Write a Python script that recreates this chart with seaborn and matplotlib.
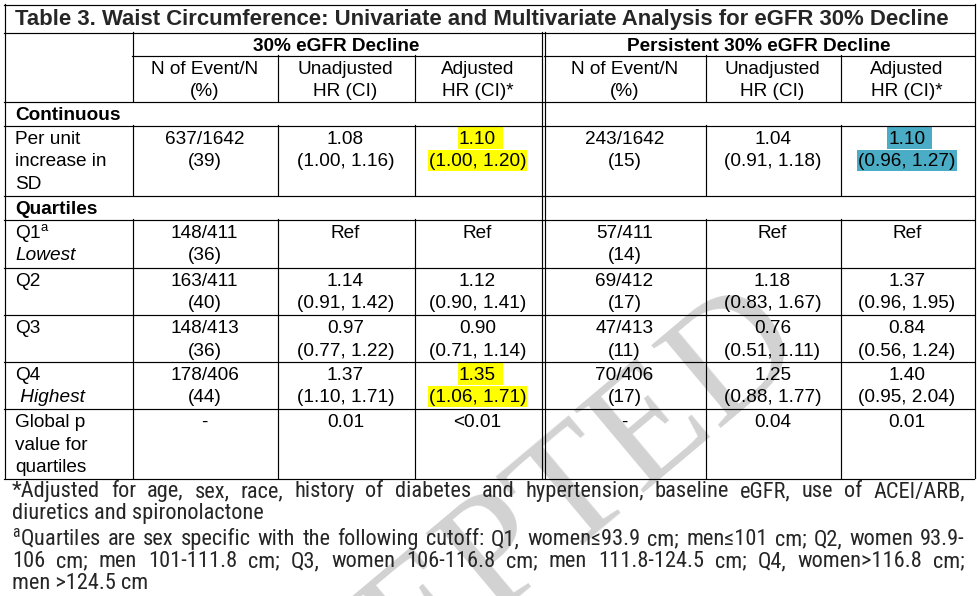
import numpy as np
import pandas as pd
import seaborn as sns
import matplotlib.pyplot as plt
from matplotlib import font_manager
from matplotlib.patches import Rectangle

sns.set_theme(style='white')
# 폰트는 set_theme 뒤에 지정
plt.rcParams['font.family'] = ['Liberation Sans', 'DejaVu Sans']
plt.rcParams['mathtext.fontset'] = 'custom'
plt.rcParams['mathtext.rm'] = 'Liberation Sans'
plt.rcParams['mathtext.it'] = 'Liberation Sans:italic'

# ---------------- 표 데이터 ----------------
title = "Table 3. Waist Circumference: Univariate and Multivariate Analysis for eGFR 30% Decline"
group_heads = ["30% eGFR Decline", "Persistent 30% eGFR Decline"]
sub_heads = [["N of Event/N", "(%)"], ["Unadjusted", "HR (CI)"], ["Adjusted", "HR (CI)*"]]
sections = ["Continuous", "Quartiles"]

row_labels = [["Per unit", "increase in", "SD"],
              ["Q1$^{\\mathregular{a}}$", "Lowest"],
              ["Q2"], ["Q3"],
              ["Q4", " Highest"],
              ["Global p", "value for", "quartiles"]]
italic_second = [False, True, False, False, True, False]

events_a = ["637/1642", "148/411", "163/411", "148/413", "178/406", "-"]
pct_a = ["(39)", "(36)", "(40)", "(36)", "(44)", ""]
unadj_a = ["1.08", "Ref", "1.14", "0.97", "1.37", "0.01"]
unadj_ci_a = ["(1.00, 1.16)", "", "(0.91, 1.42)", "(0.77, 1.22)", "(1.10, 1.71)", ""]
adj_a = ["1.10", "Ref", "1.12", "0.90", "1.35", "<0.01"]
adj_ci_a = ["(1.00, 1.20)", "", "(0.90, 1.41)", "(0.71, 1.14)", "(1.06, 1.71)", ""]

events_b = ["243/1642", "57/411", "69/412", "47/413", "70/406", "-"]
pct_b = ["(15)", "(14)", "(17)", "(11)", "(17)", ""]
unadj_b = ["1.04", "Ref", "1.18", "0.76", "1.25", "0.04"]
unadj_ci_b = ["(0.91, 1.18)", "", "(0.83, 1.67)", "(0.51, 1.11)", "(0.88, 1.77)", ""]
adj_b = ["1.10", "Ref", "1.37", "0.84", "1.40", "0.01"]
adj_ci_b = ["(0.96, 1.27)", "", "(0.96, 1.95)", "(0.56, 1.24)", "(0.95, 2.04)", ""]

# (행, 그룹, 열, 색)
highlights = [(0, 0, 2, '#ffff00'), (4, 0, 2, '#ffff00'), (0, 1, 2, '#4bacc6')]

footnotes = [
    ("*Adjusted for age, sex, race, history of diabetes and hypertension, baseline eGFR, use of ACEI/ARB,", True),
    ("diuretics and spironolactone", False),
    ("$^{\\mathregular{a}}$Quartiles are sex specific with the following cutoff: Q1, women≤93.9 cm; men≤101 cm; Q2, women 93.9-", True),
    ("106 cm; men 101-111.8 cm; Q3, women 106-116.8 cm; men 111.8-124.5 cm; Q4, women>116.8 cm;", True),
    ("men >124.5 cm", False),
]

groups = [[(events_a, pct_a), (unadj_a, unadj_ci_a), (adj_a, adj_ci_a)],
          [(events_b, pct_b), (unadj_b, unadj_ci_b), (adj_b, adj_ci_b)]]

# ---------------- 레이아웃 (픽셀) ----------------
L, R = 4, 974
c1 = 132
blocks = [[132, 277, 414, 541], [544, 705, 840, 974]]
y_title, y_g, y_sub, y_cont = 4, 32, 55, 101
data_tops = [125, 219, 267, 314, 361, 408]
sec_tops = [101, 195]
y_end = 478
all_h = [4, 32, 101, 125, 195, 219, 267, 314, 361, 408, 478]
FS = 13.7
LS = 22.5
TX = 15

fig = plt.figure(figsize=(9.78, 5.96), dpi=100)
fig.patch.set_facecolor('white')
ax = fig.add_axes([0, 0, 1, 1])
ax.set_xlim(0, 978)
ax.set_ylim(596, 0)
ax.axis('off')
renderer = fig.canvas.get_renderer()


def width_of(t):
    return t.get_window_extent(renderer).width


def hline(y, x0, x1):
    ax.plot([x0, x1], [y + 0.5, y + 0.5], color='black', lw=0.85, solid_capstyle='projecting', zorder=3)


def vline(x, y0, y1):
    ax.plot([x + 0.5, x + 0.5], [y0, y1], color='black', lw=0.85, solid_capstyle='projecting', zorder=3)


def put(x, top, i, s, ha='center', **kw):
    return ax.text(x, top + 19 + i * LS, s, ha=ha, va='baseline', fontsize=kw.pop('fontsize', FS),
                   color='black', zorder=4, **kw)


# 워터마크 (ACCEPTED, 아래쪽은 그림 밖)
ax.text(809, 353, "ACCEPTED", fontsize=119, family=['Liberation Serif', 'DejaVu Serif'],
        color='#d2d2d2', rotation=40, rotation_mode='anchor', ha='right', va='baseline', zorder=1)

# 선
for y in all_h:
    hline(y, L, R)
hline(y_sub, c1, blocks[0][-1])
hline(y_sub, blocks[1][0], R)
vline(L, y_title, y_end)
vline(R, y_title, y_end)
for xx in [blocks[0][-1], blocks[1][0]]:
    vline(xx, y_g, y_end)
vline(c1, y_g, y_cont)
seg = [(y_sub, y_cont), (125, 195), (219, y_end)]
for (a, b) in seg:
    if a != y_sub:
        vline(c1, a, b)
    for blk in blocks:
        for xx in blk[1:3]:
            vline(xx, a, b)

# 제목
t = ax.text(TX, 25, title, fontsize=14, fontweight='bold', ha='left', va='baseline', zorder=4)
t.set_fontsize(14 * 934 / width_of(t))

# 헤더
for g, blk in enumerate(blocks):
    put((blk[0] + blk[-1]) / 2, y_g, 0, group_heads[g], fontweight='bold')
    for j in range(3):
        cx = (blk[j] + blk[j + 1]) / 2
        for i, s in enumerate(sub_heads[j]):
            put(cx, y_sub, i, s)

# 섹션 제목
for s, top in zip(sections, sec_tops):
    put(TX, top, 0, s, ha='left', fontweight='bold')

# 본문
for r, top in enumerate(data_tops):
    for i, s in enumerate(row_labels[r]):
        style = 'italic' if (i == 1 and italic_second[r]) else 'normal'
        put(TX, top, i, s, ha='left', fontstyle=style)
    for g, blk in enumerate(blocks):
        for j, (v1, v2) in enumerate(groups[g]):
            cx = (blk[j] + blk[j + 1]) / 2
            t1 = put(cx, top, 0, v1[r])
            t2 = put(cx, top, 1, v2[r]) if v2[r] else None
            for (hr, hg, hj, col) in highlights:
                if (hr, hg, hj) == (r, g, j):
                    for i, tt in enumerate([t1, t2]):
                        bb = tt.get_window_extent(renderer)
                        extra = 5.5 if i == 0 else 0
                        ax.add_patch(Rectangle((bb.x0 - 1, top + 2 + i * LS), bb.width + 2 + extra, LS - 1,
                                               facecolor=col, edgecolor='none', zorder=2))

# 각주 - 좁은 글꼴이 있으면 사용
narrow = None
for f in font_manager.fontManager.ttflist:
    st = str(f.stretch).lower()
    is_narrow = ('narrow' in f.name.lower() or 'condensed' in f.name.lower()
                 or st in ('condensed', 'semi-condensed', 'extra-condensed'))
    if is_narrow and f.style == 'normal' and str(f.weight) in ('400', 'normal', 'regular', 'book'):
        if 'cjk' in f.name.lower() or 'mono' in f.name.lower():
            continue
        score = 0 if 'liberation' in f.name.lower() else (1 if 'roboto' in f.name.lower() else 2)
        if narrow is None or score < narrow[0]:
            narrow = (score, f.fname)
note_kw = {'fontproperties': font_manager.FontProperties(fname=narrow[1])} if narrow else {'family': ['Liberation Sans']}


def note_text(x, y, s, fs):
    t = ax.text(x, y, s, ha='left', va='baseline', zorder=4, **note_kw)
    t.set_fontsize(fs)
    return t


probe = note_text(0, 0, footnotes[1][0], 12)
note_fs = 12 * 251 / width_of(probe)
probe.remove()

note_base = [497, 519, 545, 567, 589]
NX0, NX1 = 12, 965
for (s, just), yb in zip(footnotes, note_base):
    if not just:
        note_text(NX0, yb, s, note_fs)
        continue
    words = s.split(' ')
    ts = [note_text(0, yb, w, note_fs) for w in words]
    ws = [width_of(tt) for tt in ts]
    gap = (NX1 - NX0 - sum(ws)) / (len(ws) - 1)
    x = NX0
    for tt, w in zip(ts, ws):
        tt.set_x(x)
        x += w + gap

fig.savefig('out.png', dpi=100, facecolor='white')
